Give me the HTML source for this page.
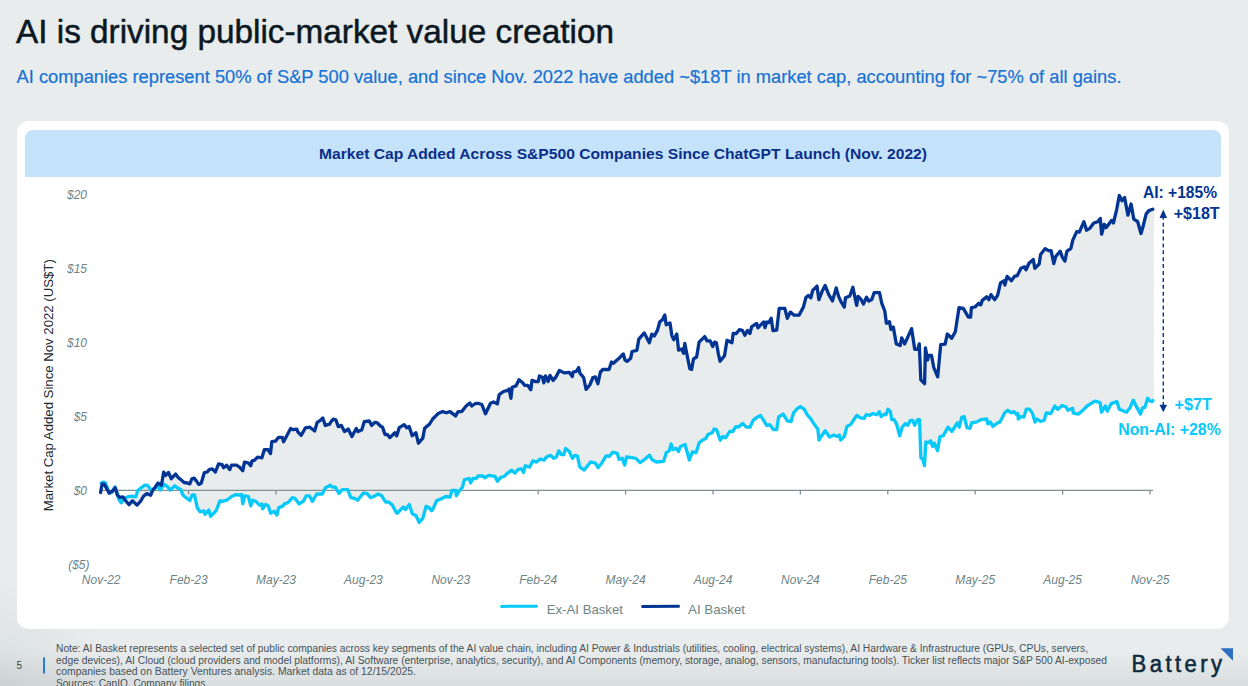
<!DOCTYPE html>
<html><head><meta charset="utf-8"><style>
html,body{margin:0;padding:0;}
body{width:1248px;height:686px;overflow:hidden;background:#E8ECED;position:relative;font-family:"Liberation Sans",sans-serif;}
.card{position:absolute;left:17px;top:121px;width:1212px;height:508px;background:#fff;border-radius:12px;}
.band{position:absolute;left:25px;top:130px;width:1196px;height:47px;background:#C4E3FB;border-radius:8px 8px 0 0;}
svg{position:absolute;left:0;top:0;}
.vig{position:absolute;left:0;top:0;width:1248px;height:686px;pointer-events:none;background:linear-gradient(to bottom, rgba(30,40,45,0) 650px, rgba(30,40,45,0.075) 686px), radial-gradient(circle at 0px 686px, rgba(30,40,45,0.07), rgba(30,40,45,0) 110px);}
text{font-family:"Liberation Sans",sans-serif;}
</style></head><body>
<div class="vig"></div>
<div class="card"></div>
<div class="band"></div>
<svg width="1248" height="686" viewBox="0 0 1248 686">
<text x="16" y="43.3" font-size="33.5" fill="#0B1822" stroke="#0B1822" stroke-width="0.5" textLength="598" lengthAdjust="spacingAndGlyphs">AI is driving public-market value creation</text>
<text x="16.5" y="83.3" font-size="18" fill="#1672D4" stroke="#1672D4" stroke-width="0.2" textLength="1105" lengthAdjust="spacingAndGlyphs">AI companies represent 50% of S&amp;P 500 value, and since Nov. 2022 have added ~$18T in market cap, accounting for ~75% of all gains.</text>
<text x="319" y="159.1" font-size="15" font-weight="700" fill="#0B2E8A" textLength="608" lengthAdjust="spacingAndGlyphs">Market Cap Added Across S&amp;P500 Companies Since ChatGPT Launch (Nov. 2022)</text>
<text transform="translate(52.5,511.2) rotate(-90)" x="0" y="0" font-size="13" fill="#1E2A30" textLength="252" lengthAdjust="spacingAndGlyphs">Market Cap Added Since Nov 2022 (US$T)</text>
<g font-size="12" font-style="italic" fill="#6D8484" text-anchor="end"><text x="87" y="199.0">$20</text><text x="87" y="272.9">$15</text><text x="87" y="347.0">$10</text><text x="87" y="421.2">$5</text><text x="87" y="495.0">$0</text><text x="89.5" y="569.2">($5)</text></g>
<g font-size="12" font-style="italic" fill="#6D8484" text-anchor="middle"><text x="101.2" y="583.8">Nov-22</text><text x="188.6" y="583.8">Feb-23</text><text x="276.0" y="583.8">May-23</text><text x="363.4" y="583.8">Aug-23</text><text x="450.8" y="583.8">Nov-23</text><text x="538.2" y="583.8">Feb-24</text><text x="625.6" y="583.8">May-24</text><text x="713.0" y="583.8">Aug-24</text><text x="800.4" y="583.8">Nov-24</text><text x="887.8" y="583.8">Feb-25</text><text x="975.2" y="583.8">May-25</text><text x="1062.6" y="583.8">Aug-25</text><text x="1150.0" y="583.8">Nov-25</text></g>
<path d="M100.6,492.3 L102.2,483.8 L104.2,484.1 L109.1,493.0 L112.0,491.6 L115.3,487.7 L117.3,494.9 L119.9,497.5 L122.9,496.9 L125.2,500.2 L129.1,504.8 L132.4,500.8 L137.0,505.1 L140.9,500.8 L143.5,496.2 L146.8,493.6 L150.7,495.2 L152.7,490.3 L155.3,487.0 L158.1,483.0 L161.4,485.3 L163.7,472.1 L165.6,475.4 L168.5,472.5 L171.3,478.7 L175.6,474.0 L178.4,477.7 L181.3,480.1 L184.1,482.5 L187.4,483.0 L189.8,483.9 L191.9,478.9 L194.3,478.2 L196.2,480.7 L198.7,484.4 L201.2,483.2 L204.3,472.7 L207.3,472.0 L209.2,469.6 L212.3,468.9 L215.4,472.0 L218.5,464.0 L222.2,464.6 L223.5,467.7 L226.6,465.2 L229.7,469.6 L231.5,465.2 L236.5,465.2 L239.6,467.1 L242.7,470.8 L244.5,462.1 L248.2,462.8 L250.7,465.8 L252.0,460.9 L254.4,460.3 L257.5,457.2 L261.9,457.8 L264.3,449.7 L268.1,449.7 L270.5,453.5 L271.8,441.7 L275.5,441.1 L278.6,437.3 L282.3,437.3 L283.6,441.7 L286.0,437.3 L290.6,428.5 L293.1,429.7 L296.8,429.1 L298.0,432.2 L301.1,435.3 L303.0,432.2 L305.4,427.8 L309.8,427.2 L314.7,430.9 L317.2,422.3 L320.3,420.4 L322.8,417.9 L325.3,425.4 L329.6,424.1 L331.5,421.0 L333.3,419.2 L335.8,419.8 L338.3,426.6 L341.4,425.4 L344.5,431.6 L348.2,429.1 L351.9,436.5 L356.3,428.5 L358.1,431.6 L361.8,429.7 L364.3,421.6 L369.3,421.0 L371.7,425.4 L374.8,422.3 L377.3,422.9 L380.4,426.0 L382.5,427.1 L385.0,434.5 L387.4,434.5 L389.9,437.6 L394.9,432.7 L396.7,435.8 L399.2,427.7 L404.2,424.6 L406.6,427.7 L409.1,426.5 L412.2,435.8 L415.9,432.7 L418.4,443.2 L422.8,438.2 L424.6,428.3 L429.6,424.0 L432.7,419.0 L435.8,415.9 L438.2,413.5 L442.6,411.6 L446.3,412.8 L450.0,411.6 L455.6,415.9 L458.1,411.6 L461.8,411.6 L466.1,406.0 L469.8,402.9 L471.7,406.0 L475.4,403.5 L478.1,403.3 L481.8,404.5 L485.5,413.8 L490.5,403.3 L493.6,402.0 L497.3,403.9 L499.2,394.6 L503.5,391.5 L507.8,390.3 L509.1,389.0 L510.9,398.3 L512.2,387.2 L515.9,385.9 L519.0,379.7 L522.7,382.8 L524.6,385.3 L527.7,385.3 L530.8,389.7 L532.0,380.4 L535.7,381.6 L538.2,381.6 L539.4,376.0 L542.5,377.3 L543.8,382.8 L545.6,376.0 L548.1,381.6 L550.0,375.4 L553.1,380.4 L556.2,376.6 L559.3,370.4 L564.2,372.9 L569.2,372.3 L572.3,376.6 L573.1,372.0 L576.2,371.3 L578.7,367.6 L579.9,373.2 L583.6,377.5 L586.1,389.3 L589.8,385.0 L592.9,377.5 L595.4,376.9 L597.9,383.7 L600.4,372.0 L602.8,369.5 L609.0,369.5 L611.5,362.0 L613.4,363.3 L619.6,357.7 L623.3,354.0 L625.1,360.2 L627.0,361.4 L630.7,358.3 L632.0,351.5 L636.9,350.3 L638.8,339.1 L644.3,332.9 L649.3,342.8 L651.8,334.2 L654.3,336.0 L657.4,330.4 L659.8,321.8 L662.3,319.9 L664.8,315.0 L666.2,324.8 L670.0,322.9 L671.8,335.3 L673.7,339.7 L676.8,334.1 L678.6,350.2 L681.7,348.9 L683.6,353.3 L684.8,343.4 L686.7,353.3 L689.8,368.8 L691.6,369.4 L693.5,358.9 L696.6,357.0 L699.1,342.1 L704.7,336.6 L707.1,340.9 L710.2,340.9 L712.7,346.5 L714.6,342.1 L716.4,342.8 L718.3,353.3 L720.1,361.3 L724.5,355.8 L727.0,340.3 L731.9,342.8 L733.2,333.5 L736.3,333.5 L739.3,329.7 L742.4,330.4 L744.9,335.3 L747.4,330.4 L749.9,333.5 L751.7,326.6 L756.7,323.5 L757.9,327.9 L760.0,325.7 L763.7,322.0 L765.0,327.6 L766.8,322.0 L768.7,322.6 L771.2,318.3 L773.0,330.7 L776.7,330.1 L779.2,308.4 L784.8,308.4 L787.3,318.3 L790.4,312.1 L794.1,315.2 L799.0,315.2 L803.4,307.1 L805.8,297.8 L808.3,295.4 L810.8,297.8 L812.7,290.4 L817.0,286.1 L818.9,299.7 L822.0,291.6 L825.1,285.4 L828.8,294.7 L832.5,300.9 L836.2,287.9 L838.7,296.6 L841.2,302.2 L844.3,307.1 L845.5,297.8 L849.8,296.0 L852.9,287.3 L855.5,300.0 L856.7,305.3 L858.1,296.5 L861.1,299.5 L863.4,304.1 L866.5,297.2 L868.8,301.1 L871.8,299.5 L874.1,292.7 L879.5,292.7 L881.8,303.4 L884.8,311.0 L886.4,323.3 L889.4,321.7 L891.0,329.4 L893.3,327.1 L896.3,343.9 L900.2,345.5 L901.7,337.8 L904.7,343.9 L911.6,328.6 L914.7,349.3 L917.8,349.3 L919.3,343.9 L920.8,379.9 L924.6,383.7 L925.4,347.8 L927.7,360.0 L928.5,355.4 L931.5,355.4 L933.8,367.7 L937.7,376.8 L940.7,344.7 L945.1,344.2 L947.3,334.0 L951.7,338.3 L955.3,331.8 L959.0,307.7 L963.3,308.4 L968.4,317.2 L970.6,317.2 L971.4,307.7 L975.0,307.0 L978.6,303.3 L980.8,304.8 L982.3,300.4 L986.7,296.8 L988.9,299.7 L991.0,294.6 L994.7,299.7 L997.6,295.3 L1000.5,282.9 L1004.2,280.7 L1004.9,285.1 L1007.1,276.4 L1011.5,280.7 L1014.4,276.4 L1017.3,275.6 L1020.9,268.3 L1024.6,266.9 L1026.0,269.8 L1029.0,263.2 L1033.3,259.6 L1034.8,268.3 L1039.2,264.0 L1040.6,254.5 L1045.2,248.6 L1048.5,250.6 L1051.1,250.6 L1053.8,263.7 L1055.7,256.5 L1060.3,251.2 L1062.3,257.1 L1064.9,261.1 L1066.9,251.2 L1070.8,248.6 L1072.8,240.1 L1076.7,231.6 L1079.3,232.2 L1083.9,221.7 L1086.6,230.2 L1089.8,228.3 L1093.8,223.0 L1097.7,221.7 L1100.3,218.4 L1101.6,234.2 L1104.3,224.3 L1106.2,227.6 L1111.5,220.4 L1113.4,223.0 L1116.7,209.3 L1119.3,195.5 L1122.0,200.7 L1124.6,197.5 L1127.9,215.2 L1131.1,204.0 L1133.8,219.1 L1137.7,221.7 L1141.0,233.5 L1142.9,227.0 L1146.2,213.9 L1148.9,210.6 L1152.8,209.3 L1154.0,209.3 L1154.0,400.5 L1152.8,400.5 L1152.0,401.6 L1149.6,400.7 L1147.7,398.3 L1144.8,407.4 L1142.4,407.9 L1140.5,414.1 L1137.1,407.9 L1133.3,400.2 L1129.9,407.9 L1126.5,412.2 L1119.3,409.3 L1116.9,401.6 L1111.2,403.6 L1107.3,411.3 L1105.4,406.0 L1101.5,412.2 L1100.1,402.6 L1094.8,401.2 L1087.1,406.0 L1082.3,410.8 L1078.5,414.1 L1073.2,413.2 L1072.7,408.4 L1067.9,410.3 L1066.0,406.9 L1062.1,405.5 L1057.8,409.3 L1054.9,406.0 L1050.6,413.7 L1046.2,412.8 L1044.3,420.2 L1040.6,421.5 L1036.9,419.0 L1035.0,422.1 L1032.5,413.4 L1029.4,409.1 L1026.3,409.1 L1023.9,417.1 L1020.8,416.5 L1018.3,419.0 L1017.7,413.4 L1015.8,414.0 L1014.0,411.6 L1011.5,412.8 L1007.8,410.3 L1004.7,412.8 L1001.6,419.0 L999.7,422.1 L997.8,422.7 L992.9,426.4 L990.4,422.1 L987.9,423.9 L986.7,419.0 L981.1,419.6 L976.2,422.1 L971.8,422.7 L970.0,428.3 L966.9,427.7 L964.2,416.6 L961.7,417.3 L959.2,427.2 L957.4,422.8 L951.8,431.5 L948.1,427.2 L943.1,435.8 L940.0,436.5 L937.5,450.7 L934.4,443.3 L932.6,446.4 L930.7,440.8 L928.2,442.7 L925.8,442.0 L924.5,465.6 L922.7,459.4 L920.8,457.5 L919.6,419.7 L917.7,419.7 L914.6,425.3 L912.8,420.4 L910.3,420.4 L907.8,425.3 L905.3,423.5 L902.2,427.2 L899.7,435.8 L896.6,424.1 L894.2,419.7 L891.7,419.7 L890.4,411.7 L888.0,409.2 L886.1,414.8 L884.3,414.2 L881.2,416.6 L879.3,411.7 L876.8,414.8 L873.1,413.5 L869.8,415.3 L866.1,414.7 L864.2,418.4 L860.5,417.8 L856.8,415.3 L854.3,419.0 L850.6,424.6 L846.9,426.5 L844.4,436.4 L840.7,440.1 L839.4,435.1 L837.0,436.4 L833.9,435.1 L829.5,437.0 L825.2,430.8 L820.8,437.0 L819.0,440.1 L817.8,428.9 L814.0,424.0 L810.9,419.0 L807.2,414.7 L804.1,409.1 L800.4,406.6 L797.3,408.5 L793.6,412.8 L791.1,421.5 L787.4,420.9 L783.1,414.1 L778.6,417.0 L776.7,429.7 L773.6,429.7 L769.8,424.7 L766.7,425.3 L760.5,415.4 L756.2,417.9 L753.1,420.4 L750.0,427.2 L746.3,427.2 L742.6,423.5 L738.2,427.2 L735.8,426.6 L732.7,431.5 L729.6,431.5 L725.8,437.7 L722.8,436.5 L720.3,440.2 L716.6,429.7 L714.1,429.0 L712.2,432.8 L707.9,434.6 L706.0,438.3 L702.3,440.2 L699.2,442.7 L696.1,452.6 L692.4,452.0 L689.3,460.0 L685.0,444.5 L680.4,446.5 L678.6,451.5 L676.1,448.4 L673.0,449.6 L671.1,444.0 L669.3,450.8 L666.2,452.7 L663.7,461.4 L656.3,462.0 L651.9,459.5 L649.4,455.2 L644.5,459.5 L640.1,462.6 L635.8,458.3 L631.5,457.7 L626.5,457.0 L624.7,465.1 L622.2,458.3 L619.1,459.5 L617.2,453.3 L612.9,452.1 L609.2,456.4 L606.1,455.8 L601.7,463.2 L598.0,467.6 L595.5,463.2 L590.6,462.0 L584.2,470.1 L579.8,467.0 L577.4,455.9 L574.9,455.3 L572.4,458.4 L569.3,451.6 L565.6,448.5 L563.7,454.7 L561.3,454.7 L558.8,450.9 L556.3,457.1 L553.8,458.4 L550.7,455.3 L546.4,457.1 L543.9,460.2 L540.2,459.0 L536.5,462.1 L532.8,460.8 L529.7,467.0 L525.3,465.8 L523.5,472.6 L521.6,468.9 L517.9,469.5 L514.8,473.2 L511.7,470.1 L506.7,473.9 L504.3,476.3 L500.5,477.6 L497.4,481.3 L495.0,476.3 L488.6,475.4 L484.8,477.9 L483.0,476.0 L478.0,476.0 L476.2,478.5 L473.1,478.5 L470.6,482.8 L469.3,478.5 L464.4,479.7 L462.5,487.2 L458.8,491.5 L456.3,495.8 L455.7,490.3 L452.0,490.3 L450.1,497.1 L445.8,496.5 L440.8,498.9 L436.5,500.8 L433.4,508.2 L431.6,510.7 L429.1,507.6 L426.0,506.4 L422.9,518.2 L419.2,522.5 L416.1,515.7 L412.3,513.8 L409.3,504.5 L405.5,509.5 L403.1,507.0 L397.5,513.2 L396.7,513.2 L392.3,505.1 L388.6,502.0 L385.5,502.0 L381.8,495.8 L378.1,494.0 L373.7,496.5 L370.6,497.7 L366.9,493.4 L363.2,493.4 L357.6,500.2 L354.5,498.3 L350.8,497.7 L347.7,489.7 L342.1,489.7 L339.0,493.4 L335.3,487.2 L332.2,487.2 L330.4,485.3 L325.4,487.8 L322.3,494.0 L316.7,494.0 L312.4,501.4 L309.3,495.8 L306.2,495.8 L303.7,500.8 L299.2,503.9 L294.8,498.3 L292.4,497.7 L288.0,502.7 L284.3,503.9 L282.4,506.4 L278.7,507.6 L276.9,515.1 L274.4,511.3 L270.7,513.2 L268.2,505.8 L265.7,504.5 L262.6,508.9 L262.0,503.9 L259.5,505.1 L255.8,501.4 L252.7,500.2 L250.8,505.8 L248.4,496.5 L244.7,495.8 L242.8,503.9 L241.6,494.6 L239.1,495.2 L236.0,494.6 L231.6,496.5 L226.7,500.2 L222.3,501.4 L219.9,500.8 L216.2,510.7 L210.6,516.3 L208.7,510.1 L205.0,514.4 L204.0,510.9 L200.2,511.9 L197.4,508.1 L194.5,494.8 L192.2,494.8 L189.8,500.5 L186.0,497.7 L182.7,494.8 L180.8,489.6 L178.0,488.2 L174.6,485.8 L170.4,490.1 L167.1,486.3 L164.2,484.4 L160.4,490.1 L158.0,486.4 L152.7,489.7 L150.7,490.3 L149.4,487.7 L147.5,485.4 L144.8,485.1 L142.2,487.0 L139.6,489.0 L137.6,491.0 L135.7,496.9 L131.7,496.2 L127.8,496.9 L123.9,498.2 L121.2,502.8 L118.6,498.9 L116.6,491.6 L114.7,487.0 L112.0,492.3 L109.4,493.3 L105.5,483.1 L103.5,482.1 L101.2,483.1 Z" fill="#E8ECED" stroke="none"/>
<line x1="100.8" y1="490.3" x2="1153" y2="490.3" stroke="#7F9090" stroke-width="1.3"/>
<g stroke="#7F9090" stroke-width="1.3"><line x1="101.2" y1="490.3" x2="101.2" y2="494.5"/><line x1="188.6" y1="490.3" x2="188.6" y2="494.5"/><line x1="276.0" y1="490.3" x2="276.0" y2="494.5"/><line x1="363.4" y1="490.3" x2="363.4" y2="494.5"/><line x1="450.8" y1="490.3" x2="450.8" y2="494.5"/><line x1="538.2" y1="490.3" x2="538.2" y2="494.5"/><line x1="625.6" y1="490.3" x2="625.6" y2="494.5"/><line x1="713.0" y1="490.3" x2="713.0" y2="494.5"/><line x1="800.4" y1="490.3" x2="800.4" y2="494.5"/><line x1="887.8" y1="490.3" x2="887.8" y2="494.5"/><line x1="975.2" y1="490.3" x2="975.2" y2="494.5"/><line x1="1062.6" y1="490.3" x2="1062.6" y2="494.5"/><line x1="1150.0" y1="490.3" x2="1150.0" y2="494.5"/></g>
<path d="M101.2,483.1 L103.5,482.1 L105.5,483.1 L109.4,493.3 L112.0,492.3 L114.7,487.0 L116.6,491.6 L118.6,498.9 L121.2,502.8 L123.9,498.2 L127.8,496.9 L131.7,496.2 L135.7,496.9 L137.6,491.0 L139.6,489.0 L142.2,487.0 L144.8,485.1 L147.5,485.4 L149.4,487.7 L150.7,490.3 L152.7,489.7 L158.0,486.4 L160.4,490.1 L164.2,484.4 L167.1,486.3 L170.4,490.1 L174.6,485.8 L178.0,488.2 L180.8,489.6 L182.7,494.8 L186.0,497.7 L189.8,500.5 L192.2,494.8 L194.5,494.8 L197.4,508.1 L200.2,511.9 L204.0,510.9 L205.0,514.4 L208.7,510.1 L210.6,516.3 L216.2,510.7 L219.9,500.8 L222.3,501.4 L226.7,500.2 L231.6,496.5 L236.0,494.6 L239.1,495.2 L241.6,494.6 L242.8,503.9 L244.7,495.8 L248.4,496.5 L250.8,505.8 L252.7,500.2 L255.8,501.4 L259.5,505.1 L262.0,503.9 L262.6,508.9 L265.7,504.5 L268.2,505.8 L270.7,513.2 L274.4,511.3 L276.9,515.1 L278.7,507.6 L282.4,506.4 L284.3,503.9 L288.0,502.7 L292.4,497.7 L294.8,498.3 L299.2,503.9 L303.7,500.8 L306.2,495.8 L309.3,495.8 L312.4,501.4 L316.7,494.0 L322.3,494.0 L325.4,487.8 L330.4,485.3 L332.2,487.2 L335.3,487.2 L339.0,493.4 L342.1,489.7 L347.7,489.7 L350.8,497.7 L354.5,498.3 L357.6,500.2 L363.2,493.4 L366.9,493.4 L370.6,497.7 L373.7,496.5 L378.1,494.0 L381.8,495.8 L385.5,502.0 L388.6,502.0 L392.3,505.1 L396.7,513.2 L397.5,513.2 L403.1,507.0 L405.5,509.5 L409.3,504.5 L412.3,513.8 L416.1,515.7 L419.2,522.5 L422.9,518.2 L426.0,506.4 L429.1,507.6 L431.6,510.7 L433.4,508.2 L436.5,500.8 L440.8,498.9 L445.8,496.5 L450.1,497.1 L452.0,490.3 L455.7,490.3 L456.3,495.8 L458.8,491.5 L462.5,487.2 L464.4,479.7 L469.3,478.5 L470.6,482.8 L473.1,478.5 L476.2,478.5 L478.0,476.0 L483.0,476.0 L484.8,477.9 L488.6,475.4 L495.0,476.3 L497.4,481.3 L500.5,477.6 L504.3,476.3 L506.7,473.9 L511.7,470.1 L514.8,473.2 L517.9,469.5 L521.6,468.9 L523.5,472.6 L525.3,465.8 L529.7,467.0 L532.8,460.8 L536.5,462.1 L540.2,459.0 L543.9,460.2 L546.4,457.1 L550.7,455.3 L553.8,458.4 L556.3,457.1 L558.8,450.9 L561.3,454.7 L563.7,454.7 L565.6,448.5 L569.3,451.6 L572.4,458.4 L574.9,455.3 L577.4,455.9 L579.8,467.0 L584.2,470.1 L590.6,462.0 L595.5,463.2 L598.0,467.6 L601.7,463.2 L606.1,455.8 L609.2,456.4 L612.9,452.1 L617.2,453.3 L619.1,459.5 L622.2,458.3 L624.7,465.1 L626.5,457.0 L631.5,457.7 L635.8,458.3 L640.1,462.6 L644.5,459.5 L649.4,455.2 L651.9,459.5 L656.3,462.0 L663.7,461.4 L666.2,452.7 L669.3,450.8 L671.1,444.0 L673.0,449.6 L676.1,448.4 L678.6,451.5 L680.4,446.5 L685.0,444.5 L689.3,460.0 L692.4,452.0 L696.1,452.6 L699.2,442.7 L702.3,440.2 L706.0,438.3 L707.9,434.6 L712.2,432.8 L714.1,429.0 L716.6,429.7 L720.3,440.2 L722.8,436.5 L725.8,437.7 L729.6,431.5 L732.7,431.5 L735.8,426.6 L738.2,427.2 L742.6,423.5 L746.3,427.2 L750.0,427.2 L753.1,420.4 L756.2,417.9 L760.5,415.4 L766.7,425.3 L769.8,424.7 L773.6,429.7 L776.7,429.7 L778.6,417.0 L783.1,414.1 L787.4,420.9 L791.1,421.5 L793.6,412.8 L797.3,408.5 L800.4,406.6 L804.1,409.1 L807.2,414.7 L810.9,419.0 L814.0,424.0 L817.8,428.9 L819.0,440.1 L820.8,437.0 L825.2,430.8 L829.5,437.0 L833.9,435.1 L837.0,436.4 L839.4,435.1 L840.7,440.1 L844.4,436.4 L846.9,426.5 L850.6,424.6 L854.3,419.0 L856.8,415.3 L860.5,417.8 L864.2,418.4 L866.1,414.7 L869.8,415.3 L873.1,413.5 L876.8,414.8 L879.3,411.7 L881.2,416.6 L884.3,414.2 L886.1,414.8 L888.0,409.2 L890.4,411.7 L891.7,419.7 L894.2,419.7 L896.6,424.1 L899.7,435.8 L902.2,427.2 L905.3,423.5 L907.8,425.3 L910.3,420.4 L912.8,420.4 L914.6,425.3 L917.7,419.7 L919.6,419.7 L920.8,457.5 L922.7,459.4 L924.5,465.6 L925.8,442.0 L928.2,442.7 L930.7,440.8 L932.6,446.4 L934.4,443.3 L937.5,450.7 L940.0,436.5 L943.1,435.8 L948.1,427.2 L951.8,431.5 L957.4,422.8 L959.2,427.2 L961.7,417.3 L964.2,416.6 L966.9,427.7 L970.0,428.3 L971.8,422.7 L976.2,422.1 L981.1,419.6 L986.7,419.0 L987.9,423.9 L990.4,422.1 L992.9,426.4 L997.8,422.7 L999.7,422.1 L1001.6,419.0 L1004.7,412.8 L1007.8,410.3 L1011.5,412.8 L1014.0,411.6 L1015.8,414.0 L1017.7,413.4 L1018.3,419.0 L1020.8,416.5 L1023.9,417.1 L1026.3,409.1 L1029.4,409.1 L1032.5,413.4 L1035.0,422.1 L1036.9,419.0 L1040.6,421.5 L1044.3,420.2 L1046.2,412.8 L1050.6,413.7 L1054.9,406.0 L1057.8,409.3 L1062.1,405.5 L1066.0,406.9 L1067.9,410.3 L1072.7,408.4 L1073.2,413.2 L1078.5,414.1 L1082.3,410.8 L1087.1,406.0 L1094.8,401.2 L1100.1,402.6 L1101.5,412.2 L1105.4,406.0 L1107.3,411.3 L1111.2,403.6 L1116.9,401.6 L1119.3,409.3 L1126.5,412.2 L1129.9,407.9 L1133.3,400.2 L1137.1,407.9 L1140.5,414.1 L1142.4,407.9 L1144.8,407.4 L1147.7,398.3 L1149.6,400.7 L1152.0,401.6 L1152.8,400.5" fill="none" stroke="#06C9FA" stroke-width="3.3" stroke-linejoin="round" stroke-linecap="round"/>
<path d="M100.6,492.3 L102.2,483.8 L104.2,484.1 L109.1,493.0 L112.0,491.6 L115.3,487.7 L117.3,494.9 L119.9,497.5 L122.9,496.9 L125.2,500.2 L129.1,504.8 L132.4,500.8 L137.0,505.1 L140.9,500.8 L143.5,496.2 L146.8,493.6 L150.7,495.2 L152.7,490.3 L155.3,487.0 L158.1,483.0 L161.4,485.3 L163.7,472.1 L165.6,475.4 L168.5,472.5 L171.3,478.7 L175.6,474.0 L178.4,477.7 L181.3,480.1 L184.1,482.5 L187.4,483.0 L189.8,483.9 L191.9,478.9 L194.3,478.2 L196.2,480.7 L198.7,484.4 L201.2,483.2 L204.3,472.7 L207.3,472.0 L209.2,469.6 L212.3,468.9 L215.4,472.0 L218.5,464.0 L222.2,464.6 L223.5,467.7 L226.6,465.2 L229.7,469.6 L231.5,465.2 L236.5,465.2 L239.6,467.1 L242.7,470.8 L244.5,462.1 L248.2,462.8 L250.7,465.8 L252.0,460.9 L254.4,460.3 L257.5,457.2 L261.9,457.8 L264.3,449.7 L268.1,449.7 L270.5,453.5 L271.8,441.7 L275.5,441.1 L278.6,437.3 L282.3,437.3 L283.6,441.7 L286.0,437.3 L290.6,428.5 L293.1,429.7 L296.8,429.1 L298.0,432.2 L301.1,435.3 L303.0,432.2 L305.4,427.8 L309.8,427.2 L314.7,430.9 L317.2,422.3 L320.3,420.4 L322.8,417.9 L325.3,425.4 L329.6,424.1 L331.5,421.0 L333.3,419.2 L335.8,419.8 L338.3,426.6 L341.4,425.4 L344.5,431.6 L348.2,429.1 L351.9,436.5 L356.3,428.5 L358.1,431.6 L361.8,429.7 L364.3,421.6 L369.3,421.0 L371.7,425.4 L374.8,422.3 L377.3,422.9 L380.4,426.0 L382.5,427.1 L385.0,434.5 L387.4,434.5 L389.9,437.6 L394.9,432.7 L396.7,435.8 L399.2,427.7 L404.2,424.6 L406.6,427.7 L409.1,426.5 L412.2,435.8 L415.9,432.7 L418.4,443.2 L422.8,438.2 L424.6,428.3 L429.6,424.0 L432.7,419.0 L435.8,415.9 L438.2,413.5 L442.6,411.6 L446.3,412.8 L450.0,411.6 L455.6,415.9 L458.1,411.6 L461.8,411.6 L466.1,406.0 L469.8,402.9 L471.7,406.0 L475.4,403.5 L478.1,403.3 L481.8,404.5 L485.5,413.8 L490.5,403.3 L493.6,402.0 L497.3,403.9 L499.2,394.6 L503.5,391.5 L507.8,390.3 L509.1,389.0 L510.9,398.3 L512.2,387.2 L515.9,385.9 L519.0,379.7 L522.7,382.8 L524.6,385.3 L527.7,385.3 L530.8,389.7 L532.0,380.4 L535.7,381.6 L538.2,381.6 L539.4,376.0 L542.5,377.3 L543.8,382.8 L545.6,376.0 L548.1,381.6 L550.0,375.4 L553.1,380.4 L556.2,376.6 L559.3,370.4 L564.2,372.9 L569.2,372.3 L572.3,376.6 L573.1,372.0 L576.2,371.3 L578.7,367.6 L579.9,373.2 L583.6,377.5 L586.1,389.3 L589.8,385.0 L592.9,377.5 L595.4,376.9 L597.9,383.7 L600.4,372.0 L602.8,369.5 L609.0,369.5 L611.5,362.0 L613.4,363.3 L619.6,357.7 L623.3,354.0 L625.1,360.2 L627.0,361.4 L630.7,358.3 L632.0,351.5 L636.9,350.3 L638.8,339.1 L644.3,332.9 L649.3,342.8 L651.8,334.2 L654.3,336.0 L657.4,330.4 L659.8,321.8 L662.3,319.9 L664.8,315.0 L666.2,324.8 L670.0,322.9 L671.8,335.3 L673.7,339.7 L676.8,334.1 L678.6,350.2 L681.7,348.9 L683.6,353.3 L684.8,343.4 L686.7,353.3 L689.8,368.8 L691.6,369.4 L693.5,358.9 L696.6,357.0 L699.1,342.1 L704.7,336.6 L707.1,340.9 L710.2,340.9 L712.7,346.5 L714.6,342.1 L716.4,342.8 L718.3,353.3 L720.1,361.3 L724.5,355.8 L727.0,340.3 L731.9,342.8 L733.2,333.5 L736.3,333.5 L739.3,329.7 L742.4,330.4 L744.9,335.3 L747.4,330.4 L749.9,333.5 L751.7,326.6 L756.7,323.5 L757.9,327.9 L760.0,325.7 L763.7,322.0 L765.0,327.6 L766.8,322.0 L768.7,322.6 L771.2,318.3 L773.0,330.7 L776.7,330.1 L779.2,308.4 L784.8,308.4 L787.3,318.3 L790.4,312.1 L794.1,315.2 L799.0,315.2 L803.4,307.1 L805.8,297.8 L808.3,295.4 L810.8,297.8 L812.7,290.4 L817.0,286.1 L818.9,299.7 L822.0,291.6 L825.1,285.4 L828.8,294.7 L832.5,300.9 L836.2,287.9 L838.7,296.6 L841.2,302.2 L844.3,307.1 L845.5,297.8 L849.8,296.0 L852.9,287.3 L855.5,300.0 L856.7,305.3 L858.1,296.5 L861.1,299.5 L863.4,304.1 L866.5,297.2 L868.8,301.1 L871.8,299.5 L874.1,292.7 L879.5,292.7 L881.8,303.4 L884.8,311.0 L886.4,323.3 L889.4,321.7 L891.0,329.4 L893.3,327.1 L896.3,343.9 L900.2,345.5 L901.7,337.8 L904.7,343.9 L911.6,328.6 L914.7,349.3 L917.8,349.3 L919.3,343.9 L920.8,379.9 L924.6,383.7 L925.4,347.8 L927.7,360.0 L928.5,355.4 L931.5,355.4 L933.8,367.7 L937.7,376.8 L940.7,344.7 L945.1,344.2 L947.3,334.0 L951.7,338.3 L955.3,331.8 L959.0,307.7 L963.3,308.4 L968.4,317.2 L970.6,317.2 L971.4,307.7 L975.0,307.0 L978.6,303.3 L980.8,304.8 L982.3,300.4 L986.7,296.8 L988.9,299.7 L991.0,294.6 L994.7,299.7 L997.6,295.3 L1000.5,282.9 L1004.2,280.7 L1004.9,285.1 L1007.1,276.4 L1011.5,280.7 L1014.4,276.4 L1017.3,275.6 L1020.9,268.3 L1024.6,266.9 L1026.0,269.8 L1029.0,263.2 L1033.3,259.6 L1034.8,268.3 L1039.2,264.0 L1040.6,254.5 L1045.2,248.6 L1048.5,250.6 L1051.1,250.6 L1053.8,263.7 L1055.7,256.5 L1060.3,251.2 L1062.3,257.1 L1064.9,261.1 L1066.9,251.2 L1070.8,248.6 L1072.8,240.1 L1076.7,231.6 L1079.3,232.2 L1083.9,221.7 L1086.6,230.2 L1089.8,228.3 L1093.8,223.0 L1097.7,221.7 L1100.3,218.4 L1101.6,234.2 L1104.3,224.3 L1106.2,227.6 L1111.5,220.4 L1113.4,223.0 L1116.7,209.3 L1119.3,195.5 L1122.0,200.7 L1124.6,197.5 L1127.9,215.2 L1131.1,204.0 L1133.8,219.1 L1137.7,221.7 L1141.0,233.5 L1142.9,227.0 L1146.2,213.9 L1148.9,210.6 L1152.8,209.3" fill="none" stroke="#023494" stroke-width="3.3" stroke-linejoin="round" stroke-linecap="round"/>
<line x1="1163.3" y1="215.8" x2="1163.3" y2="405" stroke="#023494" stroke-width="1.4" stroke-dasharray="4,2.9"/>
<polygon points="1159.5,218 1167.1,218 1163.3,209.6" fill="#023494"/>
<polygon points="1159.5,404.7 1167.1,404.7 1163.3,412.3" fill="#023494"/>
<g font-weight="700" font-size="16">
<text x="1143" y="197.9" fill="#023494" textLength="74" lengthAdjust="spacingAndGlyphs">AI: +185%</text>
<text x="1173.7" y="218.7" fill="#023494" textLength="46" lengthAdjust="spacingAndGlyphs">+$18T</text>
<text x="1174.5" y="410.2" fill="#06C9FA" textLength="37.5" lengthAdjust="spacingAndGlyphs">+$7T</text>
<text x="1118.2" y="434.7" fill="#06C9FA" textLength="102.6" lengthAdjust="spacingAndGlyphs">Non-AI: +28%</text>
</g>
<line x1="501.5" y1="606.4" x2="536.5" y2="606.2" stroke="#06C9FA" stroke-width="3" stroke-linecap="round"/>
<line x1="642.5" y1="606.4" x2="678.5" y2="606.2" stroke="#023494" stroke-width="3" stroke-linecap="round"/>
<g font-size="13.5" fill="#6D8484">
<text x="546.7" y="613.8" textLength="76.3" lengthAdjust="spacingAndGlyphs">Ex-AI Basket</text>
<text x="688" y="613.8" textLength="57" lengthAdjust="spacingAndGlyphs">AI Basket</text>
</g>
<text x="16.5" y="668.7" font-size="10" fill="#3A464C">5</text>
<rect x="43" y="657.4" width="2" height="16.1" fill="#2A7BD5"/>
<g font-size="10" fill="#465257"><text x="56" y="652.3" textLength="1032" lengthAdjust="spacingAndGlyphs">Note: AI Basket represents a selected set of public companies across key segments of the AI value chain, including AI Power &amp; Industrials (utilities, cooling, electrical systems), AI Hardware &amp; Infrastructure (GPUs, CPUs, servers,</text><text x="56" y="663.8" textLength="1051" lengthAdjust="spacingAndGlyphs">edge devices), AI Cloud (cloud providers and model platforms), AI Software (enterprise, analytics, security), and AI Components (memory, storage, analog, sensors, manufacturing tools). Ticker list reflects major S&amp;P 500 AI-exposed</text><text x="56" y="675.2" textLength="360" lengthAdjust="spacingAndGlyphs">companies based on Battery Ventures analysis. Market data as of 12/15/2025.</text><text x="56" y="686.6" textLength="152" lengthAdjust="spacingAndGlyphs">Sources: CapIQ, Company filings.</text></g>
<text transform="translate(1131.5,671.5) scale(0.92,1)" x="0" y="0" font-size="24" fill="#0E2A3D" stroke="#0E2A3D" stroke-width="0.6" textLength="98.5" lengthAdjust="spacing">Battery</text>
<polygon points="1220.5,648.2 1233,648.2 1233,660.7" fill="#2D6FC0"/>
</svg>
</body></html>
